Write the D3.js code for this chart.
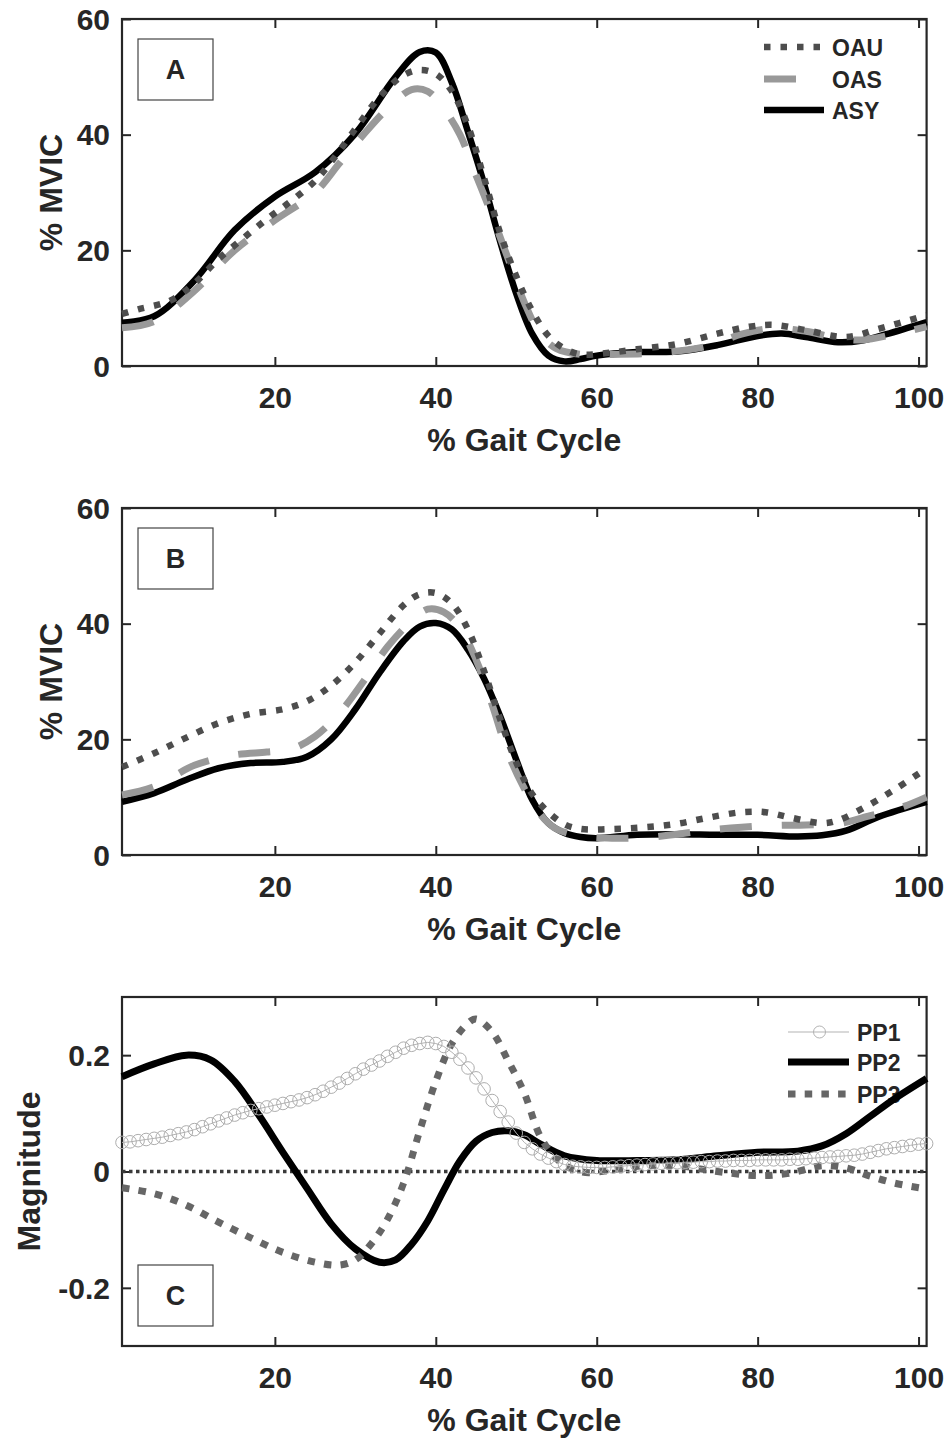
<!DOCTYPE html>
<html><head><meta charset="utf-8">
<script src="https://cdn.jsdelivr.net/npm/d3@7"></script>
<style>
body{margin:0;background:#fff}
svg{display:block}
text{font-family:"Liberation Sans",Arial,Helvetica,sans-serif;font-weight:bold;fill:#262626}
</style>
</head><body>
<svg id="chart" width="951" height="1439"></svg>
<script>
// ---------- tick labels ----------
const gaitTicks = [20, 40, 60, 80, 100];
const mvicTicks = [0, 20, 40, 60];
const magTicks = [-0.2, 0, 0.2];
const magTickLabels = ["-0.2", "0", "0.2"];

// ---------- Panel A (% MVIC) : [gait %, value] ----------
const A_OAU = [[1,9.0],[3,9.8],[7,11.3],[10,14.3],[13,18.5],[16,22],[19,25.4],[22,28.5],[25,32],[27,35.3],[30,41],[33,46.5],[36,50.3],[38,51.2],[40,50.5],[42,47.5],[44,41.5],[46,32.5],[48,23],[50,15.5],[52,9.5],[54,5.2],[56,3.0],[58,2.0],[61,2.2],[65,2.9],[70,3.8],[75,5.6],[79,6.8],[82,7.1],[86,6.2],[91,5.0],[95,6.4],[101,8.8]];
const A_OAS = [[1,6.6],[5,7.7],[10,13],[15,20],[20,25.2],[25,30],[28,35],[31,40],[34,44.5],[37,47.8],[39,47.5],[41,44.5],[43,40],[45,33],[47,26],[49,18.5],[51,11],[53,5.5],[55,3],[58,2.0],[62,2.0],[68,2.3],[74,3.5],[78,5.5],[82,6.5],[86,6.0],[90,4.8],[93,4.5],[97,5.5],[101,6.8]];
const A_ASY = [[1,7.5],[5,8.6],[10,14.8],[15,23.5],[20,29.3],[25,33.5],[30,40.2],[35,50],[38,54.3],[40,54.2],[42,49],[44,40.5],[46,31.5],[48,21.5],[50,12.5],[52,5.5],[54,1.8],[56,0.8],[58,1.2],[60,1.8],[65,2.4],[70,2.5],[75,3.6],[80,5.2],[83,5.6],[86,5.0],[90,4.1],[93,4.4],[96,5.5],[101,7.6]];

// ---------- Panel B (% MVIC) ----------
const B_OAU = [[1,15.2],[5,17.6],[9,20.3],[13,22.8],[17,24.4],[21,25.2],[24,26.6],[27,29.3],[30,33.3],[33,38.3],[36,43.2],[38,45.1],[40,45.3],[42,43.5],[44,39],[46,31.8],[48,23.5],[50,16],[52,10.5],[54,7.4],[56,5.3],[58,4.5],[62,4.5],[66,4.8],[70,5.4],[74,6.5],[78,7.4],[81,7.4],[84,6.5],[88,5.5],[90,6],[93,8],[97,11.3],[101,15]];
const B_OAS = [[1,10.4],[5,11.8],[10,15.5],[15,17.3],[19,17.8],[22,18.3],[25,20.5],[28,24.5],[31,30],[34,36],[37,40.5],[39,42.5],[41,42],[43,39.3],[45,33.8],[47,26],[49,17.5],[51,11.5],[53,7],[55,4.5],[58,3.3],[62,2.9],[66,3.0],[70,3.6],[74,4.3],[78,4.8],[82,5.1],[86,5.2],[90,5.4],[94,6.8],[98,8.3],[101,10]];
const B_ASY = [[1,9.2],[5,10.7],[9,13],[13,15],[17,15.9],[21,16.1],[24,17],[27,20],[30,25.2],[33,31.5],[36,37],[38,39.5],[40,40.1],[42,39],[44,35.5],[46,30.5],[48,24],[50,16.5],[52,9.5],[54,5.5],[56,3.8],[58,3.1],[60,2.9],[65,3.5],[70,3.6],[75,3.5],[80,3.5],[85,3.2],[88,3.4],[91,4.2],[95,6.6],[101,9.2]];

// ---------- Panel C (Magnitude) ----------
const PP1 = [0.050,0.051,0.053,0.055,0.057,0.059,0.062,0.065,0.068,0.072,
  0.077,0.082,0.087,0.092,0.097,0.101,0.105,0.108,0.111,0.114,
  0.117,0.120,0.123,0.127,0.132,0.138,0.145,0.152,0.160,0.168,
  0.176,0.183,0.190,0.198,0.205,0.212,0.217,0.220,0.222,0.220,
  0.215,0.205,0.193,0.178,0.161,0.142,0.122,0.103,0.085,0.066,
  0.050,0.039,0.030,0.023,0.017,0.012,0.009,0.008,0.007,0.007,
  0.007,0.008,0.009,0.010,0.011,0.012,0.013,0.014,0.014,0.015,
  0.016,0.016,0.017,0.017,0.018,0.018,0.019,0.019,0.019,0.020,
  0.020,0.020,0.020,0.021,0.021,0.022,0.023,0.024,0.025,0.026,
  0.027,0.028,0.030,0.033,0.036,0.039,0.041,0.043,0.045,0.047,0.048];
const PP2 = [[1,0.163],[5,0.185],[9,0.200],[12,0.192],[15,0.155],[18,0.097],[21,0.033],[24,-0.029],[27,-0.090],[30,-0.133],[33,-0.156],[35,-0.152],[37,-0.125],[39,-0.085],[41,-0.032],[43,0.018],[45,0.052],[47,0.067],[49,0.070],[51,0.063],[53,0.047],[56,0.027],[60,0.019],[65,0.019],[70,0.020],[75,0.027],[80,0.033],[85,0.035],[88,0.044],[91,0.065],[94,0.095],[97,0.125],[101,0.160]];
const PP3 = [[1,-0.028],[5,-0.038],[9,-0.058],[13,-0.087],[17,-0.114],[21,-0.139],[25,-0.156],[28,-0.161],[30,-0.152],[32,-0.124],[34,-0.082],[36,-0.020],[38,0.070],[40,0.155],[42,0.220],[44,0.255],[45,0.262],[47,0.240],[49,0.190],[51,0.135],[53,0.060],[55,0.022],[57,0.004],[59,-0.002],[62,0.003],[66,0.010],[70,0.010],[75,0.000],[80,-0.007],[84,-0.003],[88,0.010],[91,0.006],[94,-0.008],[97,-0.020],[101,-0.030]];

// ---------- styles ----------
const AX = "#262626";
const styleOAU = {stroke:"#4d4d4d", width:6.5, dash:"6.5,10"};
const styleOAS = {stroke:"#999999", width:7, dash:"32,30"};
const styleASY = {stroke:"#000000", width:6.5, dash:null};
const stylePP1 = {stroke:"#b3b3b3", width:1, dash:null};
const stylePP2 = {stroke:"#000000", width:7, dash:null};
const stylePP3 = {stroke:"#666666", width:7, dash:"7.5,9.2"};

const svg = d3.select("#chart");
const x = d3.scaleLinear().domain([1, 101]).range([122, 926.6]);

function applyStyle(sel, s){
  sel.attr("fill","none").attr("stroke",s.stroke).attr("stroke-width",s.width)
     .attr("stroke-linecap","butt").attr("stroke-linejoin","round");
  if (s.dash) sel.attr("stroke-dasharray", s.dash);
  return sel;
}

function drawFrame(cfg){
  const y = d3.scaleLinear().domain(cfg.domain).range([cfg.bottom, cfg.top]);
  const g = svg.append("g");
  const bx = g.append("g").attr("transform",`translate(0,${cfg.bottom})`)
    .call(d3.axisBottom(x).tickValues(gaitTicks).tickSize(-9).tickSizeOuter(0).tickPadding(21).tickFormat(d3.format("d")));
  const tx = g.append("g").attr("transform",`translate(0,${cfg.top})`)
    .call(d3.axisTop(x).tickValues(gaitTicks).tickSize(-9).tickSizeOuter(0).tickFormat(""));
  const ly = g.append("g").attr("transform",`translate(${x.range()[0]},0)`)
    .call(d3.axisLeft(y).tickValues(cfg.ticks).tickSize(-9).tickSizeOuter(0).tickPadding(12)
      .tickFormat((d,i)=>cfg.tickLabels[i]));
  const ry = g.append("g").attr("transform",`translate(${x.range()[1]},0)`)
    .call(d3.axisRight(y).tickValues(cfg.ticks).tickSize(-9).tickSizeOuter(0).tickFormat(""));
  [bx,tx,ly,ry].forEach(a=>{
    a.select(".domain").remove();
    a.attr("font-family",null).attr("font-size",null);
    a.selectAll(".tick line").attr("stroke",AX).attr("stroke-width",2);
    a.selectAll(".tick text").attr("fill",AX).style("font-size","30px");
  });
  ly.selectAll(".tick text").attr("dy","0.34em");
  g.append("rect").attr("x",x.range()[0]).attr("y",cfg.top)
    .attr("width",x.range()[1]-x.range()[0]).attr("height",cfg.bottom-cfg.top)
    .attr("fill","none").attr("stroke",AX).attr("stroke-width",2.2);
  g.append("text").attr("x",(x.range()[0]+x.range()[1])/2).attr("y",cfg.bottom+85)
    .attr("text-anchor","middle").style("font-size","32px").text("% Gait Cycle");
  g.append("text").attr("transform",`translate(${cfg.ylabX},${(cfg.top+cfg.bottom)/2}) rotate(-90)`)
    .attr("text-anchor","middle").style("font-size","32px").text(cfg.ylabel);
  g.append("rect").attr("x",138).attr("y",cfg.boxY).attr("width",75).attr("height",61)
    .attr("fill","#fff").attr("stroke","#444").attr("stroke-width",1.2);
  g.append("text").attr("x",175.5).attr("y",cfg.boxY+40).attr("text-anchor","middle")
    .style("font-size","27px").attr("fill","#000").text(cfg.letter);
  return y;
}

function legend(entries, x0, x1, tx){
  const g = svg.append("g");
  entries.forEach(e=>{
    applyStyle(g.append("line").attr("x1",x0).attr("x2",x1).attr("y1",e.y).attr("y2",e.y), e.style);
    if (e.marker){
      g.append("circle").attr("cx",(x0+x1)/2+1).attr("cy",e.y).attr("r",6)
        .attr("fill","none").attr("stroke",e.style.stroke).attr("stroke-width",1);
    }
    g.append("text").attr("x",tx).attr("y",e.y+9).style("font-size","23px").attr("fill","#000").text(e.label);
  });
}

function curveLine(data, y, s){
  const gen = d3.line().x(d=>x(d[0])).y(d=>y(d[1])).curve(d3.curveCatmullRom.alpha(0.5));
  applyStyle(svg.append("path").attr("d", gen(data)), s);
}

// ---------- Panel A ----------
const yA = drawFrame({top:19,bottom:366,domain:[0,60],ticks:mvicTicks,tickLabels:mvicTicks.map(String),
  ylabel:"% MVIC",ylabX:62,letter:"A",boxY:39});
curveLine(A_ASY, yA, styleASY);
curveLine(A_OAS, yA, styleOAS);
curveLine(A_OAU, yA, styleOAU);
legend([{y:47,label:"OAU",style:styleOAU},{y:79,label:"OAS",style:styleOAS},{y:110,label:"ASY",style:styleASY}],764,824,832);

// ---------- Panel B ----------
const yB = drawFrame({top:508,bottom:855,domain:[0,60],ticks:mvicTicks,tickLabels:mvicTicks.map(String),
  ylabel:"% MVIC",ylabX:62,letter:"B",boxY:528});
curveLine(B_ASY, yB, styleASY);
curveLine(B_OAS, yB, styleOAS);
curveLine(B_OAU, yB, styleOAU);

// ---------- Panel C ----------
const yC = drawFrame({top:997,bottom:1346,domain:[-0.3,0.3],ticks:magTicks,tickLabels:magTickLabels,
  ylabel:"Magnitude",ylabX:40,letter:"C",boxY:1265});
legend([{y:1032,label:"PP1",style:stylePP1,marker:true},{y:1062,label:"PP2",style:stylePP2},{y:1094,label:"PP3",style:stylePP3}],788,849,857);
svg.append("line").attr("x1",x(1)).attr("x2",x(101)).attr("y1",yC(0)).attr("y2",yC(0))
  .attr("stroke","#3a3a3a").attr("stroke-width",3.5).attr("stroke-dasharray","3.5,3.5");
curveLine(PP2, yC, stylePP2);
curveLine(PP3, yC, stylePP3);
const pp1Data = PP1.map((v,i)=>[i+1, v]);
applyStyle(svg.append("path").attr("d", d3.line().x(d=>x(d[0])).y(d=>yC(d[1]))(pp1Data)), stylePP1);
svg.append("g").selectAll("circle").data(pp1Data).join("circle")
  .attr("cx",d=>x(d[0])).attr("cy",d=>yC(d[1])).attr("r",6.3)
  .attr("fill","none").attr("stroke","#adadad").attr("stroke-width",1);
</script>
</body></html>
